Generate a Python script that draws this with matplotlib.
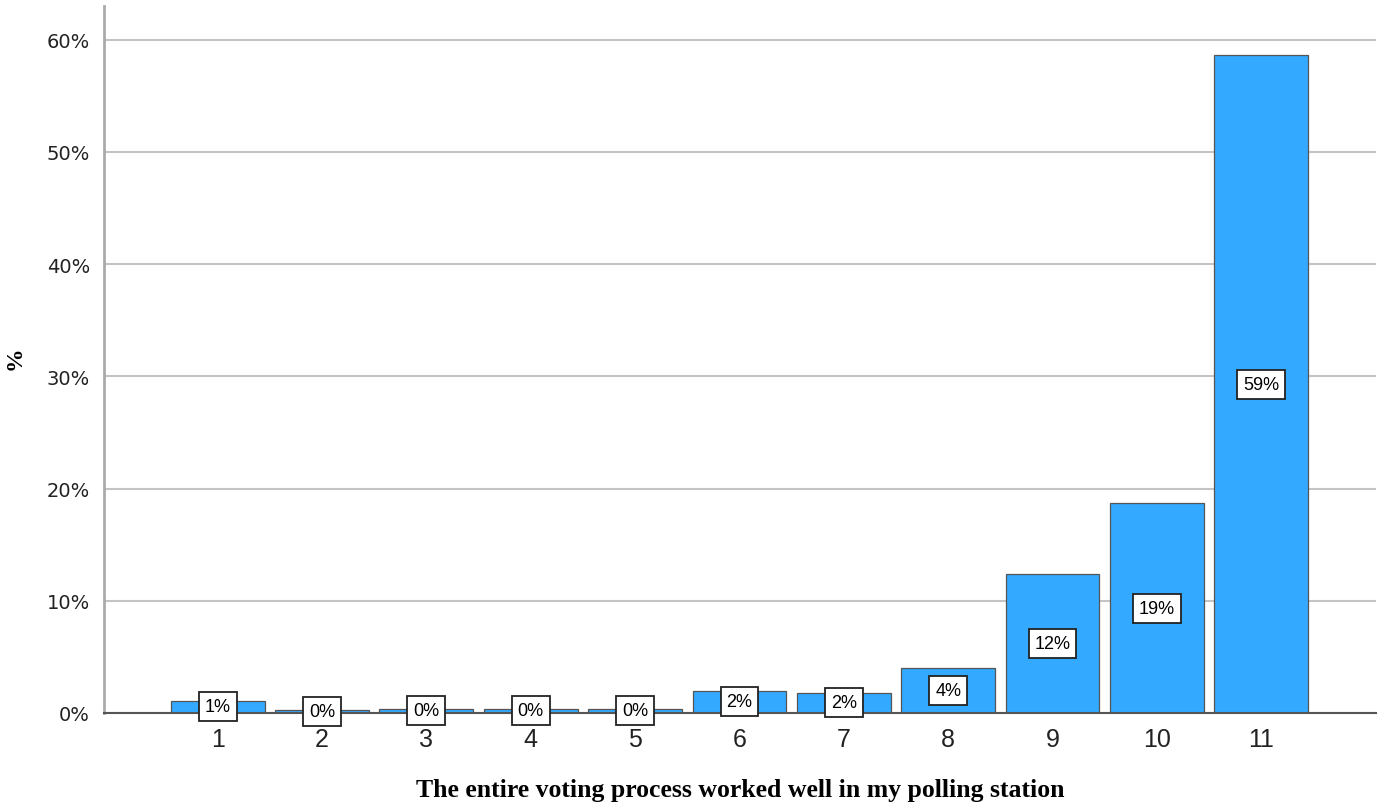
import matplotlib
matplotlib.use("Agg")
import matplotlib.pyplot as plt

categories = ["1", "2", "3", "4", "5", "6", "7", "8", "9", "10", "11"]
values = [1.1, 0.3, 0.4, 0.4, 0.4, 2.0, 1.8, 4.0, 12.4, 18.7, 58.6]
labels = ["1%", "0%", "0%", "0%", "0%", "2%", "2%", "4%", "12%", "19%", "59%"]
yticks = [0, 10, 20, 30, 40, 50, 60]
ytick_labels = ["0%", "10%", "20%", "30%", "40%", "50%", "60%"]

fig = plt.figure(figsize=(13.81, 8.12), dpi=100)
ax = fig.add_axes([104/1381, 1 - 714/812, (1376-104)/1381, (714-7)/812])

xs = list(range(1, len(categories) + 1))
ax.set_axisbelow(True)
ax.yaxis.grid(True, color="#c4c4c4", linewidth=1.5)
ax.bar(xs, values, width=0.9, color="#33aaff", edgecolor="#555555", linewidth=0.9, zorder=2)
for x, v, lab in zip(xs, values, labels):
    ax.text(x, v / 2, lab, ha="center", va="center", fontsize=13, fontfamily="Liberation Sans",
            zorder=4,
            bbox=dict(boxstyle="square,pad=0.33", facecolor="white", edgecolor="#222222", linewidth=1.3))

ax.set_xlim(-0.09, 12.1)
ax.set_ylim(0, 63)
ax.set_xticks(xs)
ax.set_xticklabels(categories, fontsize=18, fontfamily="Liberation Sans", color="#222222")
ax.set_yticks(yticks)
ax.set_yticklabels(ytick_labels, fontsize=14, fontfamily="DejaVu Sans", color="#222222")
ax.tick_params(axis="both", length=0)
ax.tick_params(axis="x", pad=10)
ax.tick_params(axis="y", pad=10)

for s in ["top", "right"]:
    ax.spines[s].set_visible(False)
ax.spines["left"].set_color("#aaaaaa")
ax.spines["left"].set_linewidth(2)
ax.spines["bottom"].set_color("#555555")
ax.spines["bottom"].set_linewidth(1.5)

ax.set_xlabel("The entire voting process worked well in my polling station",
              fontsize=18.5, fontweight="bold", fontfamily="Liberation Serif")
ax.xaxis.set_label_coords((740 - 104) / 1272, -(791 - 714) / 707)
ax.xaxis.label.set_va("center")
ax.set_ylabel("%", fontsize=17, fontweight="bold", fontfamily="Liberation Serif")
ax.yaxis.set_label_coords((15 - 104) / 1272, (714 - 358) / 707)
ax.yaxis.label.set_va("center")

fig.savefig("out.png", dpi=100)
